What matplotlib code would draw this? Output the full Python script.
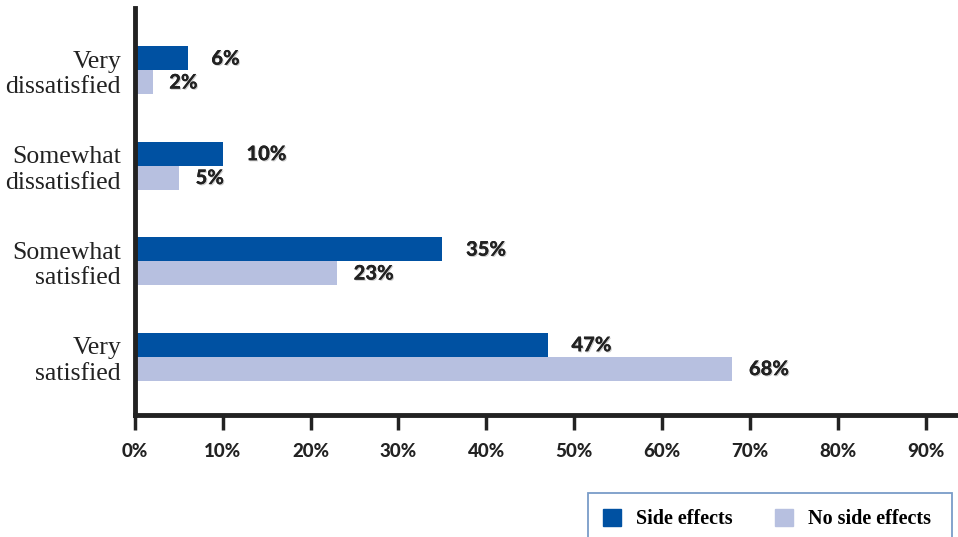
import matplotlib.pyplot as plt
import matplotlib.patheffects as pe
import numpy as np
from matplotlib.patches import Patch, Rectangle

categories = ["Very\nsatisfied", "Somewhat\nsatisfied", "Somewhat\ndissatisfied", "Very\ndissatisfied"]
side_effects = [47, 35, 10, 6]
no_side_effects = [68, 23, 5, 2]
xticks = [0, 10, 20, 30, 40, 50, 60, 70, 80, 90]

dark = "#0051a2"
light = "#b7c0e0"

fig = plt.figure(figsize=(9.58, 5.37), dpi=100)
ax = fig.add_axes([0.1409, 0.2272, 0.8591, 0.7578])

y = np.arange(len(categories))
h = 0.25
ax.barh(y + h / 2, side_effects, height=h, color=dark)
ax.barh(y - h / 2, no_side_effects, height=h, color=light)

shadow = [pe.withSimplePatchShadow(offset=(0.8, -0.8), shadow_rgbFace="#999999", alpha=0.5), pe.Normal()]
lab = dict(fontfamily="Lato", fontweight=900, fontsize=14.5, color="#222222", va="center",
           path_effects=shadow)
for yi, v in zip(y, side_effects):
    ax.annotate(f"{v}%", (v, yi + h / 2), xytext=(17, 0), textcoords="offset points", **lab)
for yi, v in zip(y, no_side_effects):
    ax.annotate(f"{v}%", (v, yi - h / 2), xytext=(12, 0), textcoords="offset points", **lab)

ax.set_xlim(0, 93.7)
ax.set_ylim(-0.61, 3.65)
ax.set_xticks(xticks)
ax.set_xticklabels([f"{t}%" for t in xticks], fontfamily="Lato", fontweight=900, fontsize=13.5,
                   color="#222222")
ax.set_yticks(y)
ax.set_yticklabels(categories, fontfamily="Liberation Serif", fontsize=18.5, color="#222222",
                   linespacing=1.2)
ax.tick_params(axis="x", length=11, width=2.5, pad=9, color="#222222")
ax.tick_params(axis="y", length=0, pad=10)

for s in ["top", "right"]:
    ax.spines[s].set_visible(False)
for s in ["left", "bottom"]:
    ax.spines[s].set_linewidth(3.5)
    ax.spines[s].set_color("#222222")

# legend box, open at the bottom edge of the figure
fig.patches.append(Rectangle((588 / 958, -0.05), (952 - 588) / 958, 0.05 + 44 / 537,
                             transform=fig.transFigure, fill=False, edgecolor="#7a9cc8",
                             linewidth=1.3))
handles = [Patch(color=dark, label="Side effects"), Patch(color=light, label="No side effects")]
fig.legend(handles=handles, loc="center left", bbox_to_anchor=(603 / 958, 1 - 519 / 537),
           ncol=2, frameon=False, borderpad=0, borderaxespad=0,
           handlelength=0.9, handleheight=0.9, handletextpad=0.75, columnspacing=2.1,
           prop={"family": "Liberation Serif", "weight": "bold", "size": 14.5})

fig.savefig("out.png", dpi=100)
